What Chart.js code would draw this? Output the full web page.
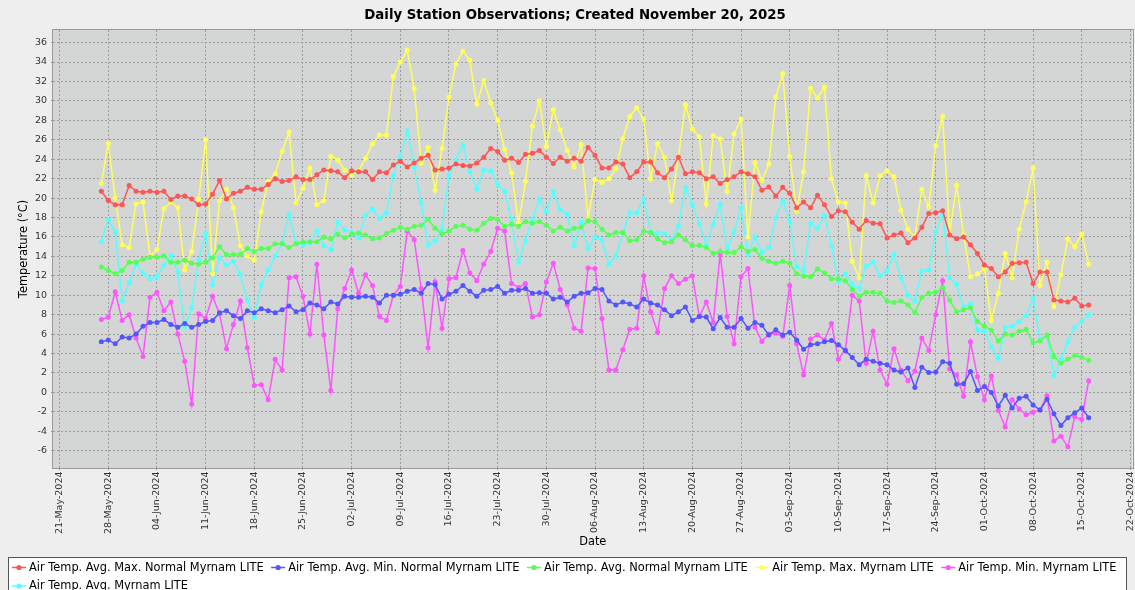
<!DOCTYPE html>
<html>
<head>
<meta charset="utf-8">
<script src="https://cdn.jsdelivr.net/npm/chart.js@4.4.1/dist/chart.umd.min.js"></script>
<style>
  html, body { margin: 0; padding: 0; background: #eeeeee; }
  #wrap { width: 1135px; height: 590px; position: relative; }
</style>
</head>
<body>
<div id="wrap"><canvas id="c" width="1135" height="590"></canvas></div>
<script>
// ---------- DATA ----------
const chartTitle = 'Daily Station Observations; Created November 20, 2025';
const firstDate = '27-May-2024';   // date of the first daily value
const xTickLabels = ['21-May-2024','28-May-2024','04-Jun-2024','11-Jun-2024','18-Jun-2024','25-Jun-2024',
  '02-Jul-2024','09-Jul-2024','16-Jul-2024','23-Jul-2024','30-Jul-2024','06-Aug-2024','13-Aug-2024',
  '20-Aug-2024','27-Aug-2024','03-Sep-2024','10-Sep-2024','17-Sep-2024','24-Sep-2024','01-Oct-2024',
  '08-Oct-2024','15-Oct-2024','22-Oct-2024'];
const yTickValues = [-6,-4,-2,0,2,4,6,8,10,12,14,16,18,20,22,24,26,28,30,32,34,36];
const seriesLabels = [
  'Air Temp. Avg. Max. Normal Myrnam LITE',
  'Air Temp. Avg. Min. Normal Myrnam LITE',
  'Air Temp. Avg. Normal Myrnam LITE',
  'Air Temp. Max. Myrnam LITE',
  'Air Temp. Min. Myrnam LITE',
  'Air Temp. Avg. Myrnam LITE'
];

const avgMaxNormal = [
  20.7,19.75,19.3,19.3,21.3,20.7,20.6,20.7,20.6,20.7,
  19.85,20.2,20.2,19.9,19.3,19.4,20.4,21.8,19.9,20.5,
  20.7,21.1,20.9,20.9,21.4,22.0,21.7,21.8,22.2,21.9,
  21.9,22.4,22.9,22.8,22.7,22.1,22.8,22.7,22.7,21.9,
  22.7,22.6,23.4,23.8,23.2,23.6,24.1,24.4,22.9,23.0,
  23.1,23.5,23.35,23.3,23.6,24.2,25.1,24.8,23.9,24.1,
  23.65,24.5,24.6,24.9,24.2,23.55,24.2,23.8,24.1,23.8,
  25.2,24.4,23.1,23.1,23.7,23.5,22.1,22.7,23.7,23.7,
  22.6,22.1,23.0,24.2,22.5,22.7,22.6,22.0,22.2,21.5,
  21.9,22.2,22.7,22.5,22.2,20.8,21.15,20.2,21.1,20.5,
  19.0,19.6,19.0,20.3,19.3,18.1,18.7,18.6,17.5,16.8,
  17.7,17.4,17.35,15.9,16.2,16.4,15.4,15.9,17.0,18.4,
  18.5,18.7,16.2,15.8,16.0,15.2,14.3,13.1,12.75,11.9,
  12.4,13.3,13.35,13.4,11.2,12.4,12.4,9.5,9.4,9.3,
  9.7,8.9,9.0
];
const avgMinNormal = [
  5.2,5.4,5.0,5.7,5.6,6.0,6.8,7.2,7.2,7.5,
  7.0,6.7,7.1,6.7,7.0,7.3,7.4,8.2,8.4,7.9,
  7.6,8.4,8.2,8.6,8.4,8.2,8.5,8.9,8.3,8.5,
  9.2,9.0,8.6,9.3,9.1,9.9,9.8,9.8,9.9,9.8,
  9.2,10.0,10.0,10.1,10.4,10.6,10.2,11.2,11.1,9.6,
  10.1,10.4,11.0,10.4,9.9,10.5,10.6,10.9,10.2,10.5,
  10.5,10.7,10.2,10.25,10.2,9.6,9.8,9.3,9.9,10.2,
  10.25,10.7,10.6,9.4,9.0,9.3,9.1,8.8,9.6,9.2,
  9.0,8.5,7.9,8.3,8.8,7.4,7.8,7.75,6.55,7.7,
  6.7,6.7,7.6,6.6,7.2,6.9,5.9,6.45,5.9,6.2,
  5.4,4.45,4.9,5.0,5.2,5.35,4.9,4.3,3.6,2.85,
  3.4,3.2,3.0,2.85,2.3,2.1,2.5,0.5,2.6,2.05,
  2.1,3.15,3.0,0.85,0.9,2.15,0.2,0.6,0.0,-1.4,
  -0.3,-1.6,-0.6,-0.4,-1.3,-1.8,-0.7,-2.2,-3.4,-2.6,
  -2.1,-1.6,-2.6
];
const avgNormal = [
  12.9,12.55,12.2,12.55,13.4,13.4,13.7,13.9,13.9,14.05,
  13.4,13.4,13.6,13.3,13.2,13.4,13.85,15.0,14.2,14.2,
  14.2,14.8,14.5,14.8,14.8,15.3,15.3,14.9,15.3,15.5,
  15.5,15.5,16.0,15.8,16.3,15.9,16.3,16.4,16.2,15.8,
  15.9,16.35,16.7,17.0,16.8,17.1,17.2,17.8,16.9,16.3,
  16.6,17.1,17.2,16.8,16.7,17.4,17.9,17.8,17.1,17.3,
  17.1,17.6,17.4,17.6,17.2,16.6,17.0,16.6,16.9,17.0,
  17.7,17.55,16.8,16.2,16.45,16.45,15.6,15.7,16.6,16.45,
  15.8,15.4,15.5,16.2,15.7,15.1,15.15,14.9,14.3,14.5,
  14.4,14.4,15.0,14.5,14.7,13.8,13.5,13.3,13.5,13.3,
  12.2,11.95,11.9,12.7,12.3,11.7,11.7,11.5,10.6,9.9,
  10.3,10.3,10.2,9.4,9.25,9.4,9.0,8.2,9.8,10.2,
  10.3,10.8,9.5,8.3,8.5,8.7,7.3,6.8,6.4,5.3,
  6.0,5.9,6.3,6.5,5.1,5.3,5.9,3.7,3.0,3.4,
  3.8,3.6,3.3
];
const maxObs = [
  21.5,25.6,20.0,15.2,14.9,19.4,19.6,14.0,14.7,18.9,
  19.6,19.0,12.6,14.5,19.9,26.0,12.2,19.7,20.9,19.0,
  15.1,14.0,13.6,18.6,21.7,22.5,24.8,26.8,19.5,21.0,
  23.1,19.3,19.75,24.3,23.9,22.9,22.35,22.8,24.1,25.6,
  26.5,26.5,32.5,34.0,35.2,31.3,23.6,25.2,20.8,25.1,
  30.4,33.8,35.1,34.2,29.65,32.1,29.8,28.0,25.0,22.6,
  17.4,21.7,27.4,30.0,25.3,29.1,27.0,24.9,23.2,25.5,
  17.9,21.9,21.6,22.0,23.0,26.1,28.4,29.3,28.1,22.0,
  25.6,24.2,19.7,24.2,29.6,27.1,26.3,19.4,26.4,26.1,
  20.7,26.6,28.1,16.0,23.65,21.8,23.5,30.4,32.8,24.3,
  18.7,22.7,31.3,30.3,31.4,22.0,19.6,19.5,13.5,11.8,
  22.3,19.5,22.3,22.8,22.2,18.75,16.8,16.0,20.9,19.1,
  25.4,28.4,16.4,21.3,16.25,11.9,12.2,12.75,7.4,10.2,
  14.3,11.8,16.8,19.6,23.1,11.0,13.4,8.85,12.1,15.8,
  15.0,16.3,13.2
];
const minObs = [
  7.5,7.75,10.35,7.4,8.0,5.6,3.7,9.8,10.3,8.4,
  9.3,6.0,3.2,-1.2,8.1,7.6,9.9,8.1,4.5,7.0,
  9.4,4.6,0.7,0.8,-0.75,3.4,2.3,11.8,11.9,9.9,
  6.0,13.2,5.9,0.2,8.6,10.7,12.6,10.2,12.1,11.0,
  7.8,7.4,10.0,10.9,16.6,15.7,10.7,4.6,11.4,6.6,
  11.7,11.8,14.6,12.3,11.5,13.2,14.5,16.9,16.6,11.2,
  10.8,11.2,7.75,8.0,11.35,13.3,10.6,9.0,6.6,6.3,
  12.8,12.75,7.6,2.3,2.3,4.4,6.5,6.6,12.0,8.3,
  6.2,10.7,12.0,11.2,11.65,12.0,7.8,9.3,7.2,14.3,
  7.8,5.0,11.9,12.75,6.7,5.25,6.0,6.1,5.75,11.0,
  5.0,1.8,5.5,5.9,5.4,7.1,3.4,4.4,10.0,9.4,
  3.0,6.3,2.3,0.85,4.5,2.3,1.2,2.2,5.6,4.3,
  8.0,11.5,2.4,1.8,-0.4,5.2,1.6,-0.75,1.7,-1.85,
  -3.55,-0.75,-1.7,-2.3,-2.05,-1.8,-0.35,-5.0,-4.5,-5.6,
  -2.5,-2.8,1.2
];
const avgObs = [
  15.5,17.8,16.5,9.4,11.3,13.2,12.3,11.7,11.9,13.1,
  14.1,12.4,6.75,8.7,13.6,16.4,11.1,13.9,13.1,13.5,
  12.1,9.5,7.7,11.1,12.6,14.0,15.4,18.3,15.4,15.2,
  15.4,16.6,15.1,14.7,17.5,16.7,16.5,15.9,18.2,18.9,
  17.9,18.5,22.35,24.3,26.9,23.2,19.5,15.2,15.6,16.8,
  22.3,23.9,25.5,22.7,20.9,22.9,22.8,21.4,20.7,17.7,
  13.4,15.6,17.8,19.9,18.6,20.7,18.8,18.3,15.1,17.5,
  14.8,16.0,15.7,13.2,14.05,16.4,18.5,18.5,19.9,16.5,
  16.4,16.35,15.6,17.1,21.1,19.3,17.35,15.2,17.3,19.4,
  14.7,16.5,19.0,14.2,16.0,14.4,14.9,18.0,19.7,17.65,
  12.95,12.5,17.4,16.9,18.2,15.1,11.35,12.2,11.1,10.7,
  13.0,13.4,12.0,12.5,14.2,11.8,10.0,9.4,12.5,12.6,
  16.5,18.4,11.8,11.1,8.8,9.1,6.4,6.3,4.7,3.5,
  6.7,6.8,7.3,7.9,9.7,5.5,5.8,1.7,3.4,5.2,
  6.7,7.3,8.0
];

// ---------- helpers ----------
const MONTHS = {Jan:0,Feb:1,Mar:2,Apr:3,May:4,Jun:5,Jul:6,Aug:7,Sep:8,Oct:9,Nov:10,Dec:11};
function parseDate(s) { const [d, m, y] = s.split('-'); return Date.UTC(+y, MONTHS[m], +d); }
const DAY = 86400000;
const t0 = parseDate(firstDate);
const dayOf = s => Math.round((parseDate(s) - t0) / DAY);
const tickDays = xTickLabels.map(dayOf);
const toPoints = arr => arr.map((v, i) => ({ x: i, y: v }));

const seriesValues = [avgMaxNormal, avgMinNormal, avgNormal, maxObs, minObs, avgObs];
const seriesColors = ['#ff5555', '#5555ff', '#55ff55', '#ffff55', '#ff55ff', '#55ffff'];

const FONT = 'DejaVu Sans';

const bgPlugin = {
  id: 'bg',
  beforeDraw(chart) {
    const { ctx, chartArea: a } = chart;
    ctx.save();
    ctx.fillStyle = '#eeeeee';
    ctx.fillRect(0, 0, chart.width, chart.height);
    ctx.fillStyle = '#d4d5d5';
    ctx.fillRect(a.left, a.top, a.right - a.left, a.bottom - a.top);
    ctx.restore();
  },
  afterDraw(chart) {
    const { ctx, chartArea: a } = chart;
    ctx.save();
    ctx.strokeStyle = '#9a9a9a';
    ctx.lineWidth = 1;
    ctx.strokeRect(Math.round(a.left) - 0.5, Math.round(a.top) - 0.5,
                   Math.round(a.right - a.left) + 1, Math.round(a.bottom - a.top) + 1);
    // legend box
    const lx = 8.5, ly = 557.5, lw = 1118, lh = 60;
    ctx.fillStyle = '#ffffff';
    ctx.fillRect(lx, ly, lw, lh);
    ctx.strokeStyle = '#555555';
    ctx.strokeRect(lx, ly, lw, lh);
    ctx.font = '11.4px "' + FONT + '"';
    ctx.textBaseline = 'middle';
    ctx.textAlign = 'left';
    let x = 12, y = 567.5;
    const right = 1124;
    chart.data.datasets.forEach(ds => {
      const w = ctx.measureText(ds.label).width;
      const itemW = 14 + 3 + w;
      if (x + itemW > right) { x = 12; y += 18.5; }
      ctx.strokeStyle = ds.borderColor;
      ctx.lineWidth = 1.5;
      ctx.beginPath(); ctx.moveTo(x, y); ctx.lineTo(x + 14, y); ctx.stroke();
      ctx.fillStyle = ds.borderColor;
      ctx.beginPath(); ctx.arc(x + 7, y, 2.6, 0, Math.PI * 2); ctx.fill();
      ctx.fillStyle = '#000000';
      ctx.fillText(ds.label, x + 17, y + 0.5);
      x += itemW + 7.5;
    });
    ctx.restore();
  }
};

const datasets = seriesLabels.map((label, k) => ({
  label,
  data: toPoints(seriesValues[k]),
  borderColor: seriesColors[k],
  backgroundColor: seriesColors[k],
  borderWidth: 1.5,
  pointRadius: 2.5,
  pointHoverRadius: 2.5,
  pointBorderWidth: 0,
  tension: 0,
  fill: false
}));

new Chart(document.getElementById('c'), {
  type: 'line',
  data: { datasets },
  plugins: [bgPlugin],
  options: {
    responsive: false,
    animation: false,
    events: [],
    layout: { padding: { left: 17, right: 2, top: 0, bottom: 34 } },
    plugins: {
      legend: { display: false },
      tooltip: { enabled: false },
      title: {
        display: true,
        text: chartTitle,
        color: '#000000',
        font: { family: FONT, size: 13.3, weight: 'bold' },
        padding: { top: 8, bottom: 6 }
      }
    },
    scales: {
      x: {
        type: 'linear',
        min: -6.95,
        max: 148.3,
        afterBuildTicks: s => { s.ticks = tickDays.map(v => ({ value: v })); },
        afterFit: s => { s.height = 88; s.paddingLeft = 0; s.paddingRight = 0; },
        ticks: {
          autoSkip: false,
          maxRotation: 90,
          minRotation: 90,
          padding: 1.5,
          color: '#333333',
          font: { family: FONT, size: 9.5 },
          callback: v => { const i = tickDays.indexOf(v); return i >= 0 ? xTickLabels[i] : ''; }
        },
        grid: { color: '#9c9c9c', lineWidth: 1, tickLength: 2, tickColor: '#9c9c9c' },
        border: { display: false, dash: [2, 2] },
        title: {
          display: true, text: 'Date', color: '#000000',
          font: { family: FONT, size: 11.4 },
          padding: { top: 0, bottom: 7 }
        }
      },
      y: {
        type: 'linear',
        min: -7.78,
        max: 37.3,
        afterBuildTicks: s => { s.ticks = yTickValues.map(v => ({ value: v })); },
        afterFit: s => { s.width = 36; },
        ticks: {
          padding: 4,
          color: '#333333',
          font: { family: FONT, size: 9.5 }
        },
        grid: { color: '#9c9c9c', lineWidth: 1, tickLength: 2, tickColor: '#9c9c9c' },
        border: { display: false, dash: [2, 2] },
        title: {
          display: true, text: 'Temperature (°C)', color: '#000000',
          font: { family: FONT, size: 11.4 },
          padding: { top: 0, bottom: 0 }
        }
      }
    }
  }
});
</script>
</body>
</html>
